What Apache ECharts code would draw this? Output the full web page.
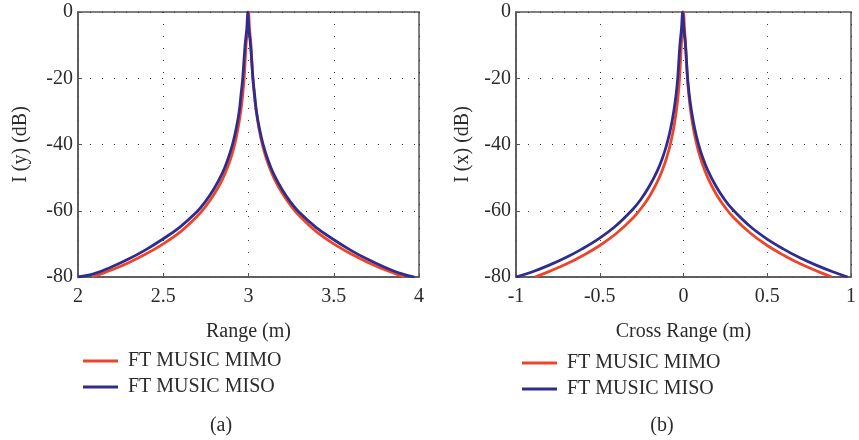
<!DOCTYPE html>
<html>
<head>
<meta charset="utf-8">
<script src="https://cdn.jsdelivr.net/npm/echarts@6/dist/echarts.min.js"></script>
<style>
  html, body { margin: 0; padding: 0; background: #fff; }
  #chart { width: 859px; height: 440px; }
</style>
</head>
<body>
<div id="chart"></div>
<script>
// (a) range profile
const rangeMisoX = [2.0, 2.096, 2.196, 2.296, 2.396, 2.496, 2.596, 2.696, 2.746, 2.796, 2.846, 2.876, 2.906,
  2.9285, 2.9455, 2.956, 2.966, 2.98, 2.99, 2.996, 3.002, 3.012, 3.026, 3.036, 3.0465, 3.0635,
  3.086, 3.116, 3.146, 3.196, 3.246, 3.296, 3.396, 3.496, 3.596, 3.696, 3.796, 3.896, 3.973];
const rangeMisoY = [-80, -79.0, -77.0, -74.6, -71.8, -68.6, -65.0, -60.4, -57.3, -53.5, -48.7, -44.9, -40,
  -35, -30, -25, -20, -10, -5, 0, -5, -10, -20, -25, -30, -35,
  -40, -44.9, -48.7, -53.5, -57.3, -60.4, -65.0, -68.6, -71.8, -74.6, -77.0, -79.0, -80];
const rangeMimoX = [2.085, 2.2, 2.3, 2.4, 2.5, 2.6, 2.7, 2.75, 2.8, 2.85, 2.88, 2.9, 2.919,
  2.939, 2.9545, 2.966, 2.9745, 2.9856, 2.994, 3.0, 3.006, 3.0144, 3.0255, 3.034, 3.0455, 3.061,
  3.081, 3.1, 3.12, 3.15, 3.2, 3.25, 3.3, 3.4, 3.5, 3.6, 3.7, 3.8, 3.912];
const rangeMimoY = [-80, -77.8, -75.6, -73.0, -70.0, -66.4, -61.6, -58.6, -54.9, -50.2, -46.5, -43.5, -40,
  -35, -30, -25, -20, -10, -5, 0, -5, -10, -20, -25, -30, -35,
  -40, -43.5, -46.5, -50.2, -54.9, -58.6, -61.6, -66.4, -70.0, -73.0, -75.6, -77.8, -80];

// (b) cross range profile
const crossMisoX = [-1.0, -0.905, -0.805, -0.705, -0.605, -0.505, -0.405, -0.305, -0.255, -0.205, -0.155, -0.125, -0.1,
  -0.0761, -0.0582, -0.0445, -0.0346, -0.0216, -0.012, -0.005, 0.002, 0.0116, 0.0246, 0.0345, 0.0482, 0.0661,
  0.09, 0.115, 0.145, 0.195, 0.245, 0.295, 0.395, 0.495, 0.595, 0.695, 0.795, 0.895, 0.98];
const crossMisoY = [-80, -78.5, -76.5, -74.2, -71.5, -68.4, -64.6, -59.7, -56.6, -52.7, -47.8, -44.0, -40,
  -35, -30, -25, -20, -10, -5, 0, -5, -10, -20, -25, -30, -35,
  -40, -44.0, -47.8, -52.7, -56.6, -59.7, -64.6, -68.4, -71.5, -74.2, -76.5, -78.5, -80];
const crossMimoX = [-0.887, -0.8, -0.7, -0.6, -0.5, -0.4, -0.3, -0.25, -0.2, -0.15, -0.12, -0.1, -0.079,
  -0.0583, -0.043, -0.0317, -0.0234, -0.0128, -0.006, 0, 0.006, 0.0128, 0.0234, 0.0317, 0.043, 0.0583,
  0.079, 0.1, 0.12, 0.15, 0.2, 0.25, 0.3, 0.4, 0.5, 0.6, 0.7, 0.8, 0.887];
const crossMimoY = [-80, -78.3, -76.1, -73.5, -70.5, -66.8, -62.1, -59.1, -55.4, -50.6, -46.9, -43.9, -40,
  -35, -30, -25, -20, -10, -5, 0, -5, -10, -20, -25, -30, -35,
  -40, -43.9, -46.9, -50.6, -55.4, -59.1, -62.1, -66.8, -70.5, -73.5, -76.1, -78.3, -80];

const seriesNames = ['FT MUSIC MIMO', 'FT MUSIC MISO'];
const colors = ['#ee4528', '#2e2d8f'];
const font = 'Liberation Serif';
const textColor = '#2b2b2b';

function pairs(xs, ys) {
  return xs.map((x, i) => [x, ys[i]]);
}

function xAxisCfg(idx, min, max, name) {
  return {
    gridIndex: idx, type: 'value', min: min, max: max, interval: 0.5,
    name: name, nameLocation: 'middle', nameGap: 45,
    nameTextStyle: { fontFamily: font, fontSize: 20, color: textColor },
    axisLine: { show: true, onZero: false, lineStyle: { color: '#555', width: 1.5 } },
    axisTick: { show: true, inside: true, length: 4, lineStyle: { color: '#555' } },
    axisLabel: { fontFamily: font, fontSize: 20, color: textColor, margin: 10 },
    splitLine: { show: true, lineStyle: { color: '#333', width: 1, type: [1, 11] } }
  };
}

function yAxisCfg(idx, name, gap) {
  return {
    gridIndex: idx, type: 'value', min: -80, max: 0, interval: 20,
    name: name, nameLocation: 'middle', nameGap: gap,
    nameTextStyle: { fontFamily: font, fontSize: 20, color: textColor },
    axisLine: { show: true, onZero: false, lineStyle: { color: '#555', width: 1.5 } },
    axisTick: { show: true, inside: true, length: 4, lineStyle: { color: '#555' } },
    axisLabel: { fontFamily: font, fontSize: 20, color: textColor, margin: 5 },
    splitLine: { show: true, lineStyle: { color: '#333', width: 1, type: [1, 11] } }
  };
}

function lineSeries(name, idx, color, data) {
  return {
    name: name, type: 'line', xAxisIndex: idx, yAxisIndex: idx,
    data: data, showSymbol: false, smooth: 0.4,
    lineStyle: { color: color, width: 2.8 },
    itemStyle: { color: color }
  };
}

const chart = echarts.init(document.getElementById('chart'));
chart.setOption({
  animation: false,
  backgroundColor: '#fff',
  title: [
    { text: '(a)', left: 216, top: 411, textAlign: 'center',
      textStyle: { fontFamily: font, fontSize: 20, fontWeight: 'normal', color: textColor } },
    { text: '(b)', left: 657, top: 411, textAlign: 'center',
      textStyle: { fontFamily: font, fontSize: 20, fontWeight: 'normal', color: textColor } }
  ],
  legend: [
    { data: seriesNames, orient: 'vertical', left: 78, top: 346, itemGap: 6,
      icon: 'rect', itemWidth: 35, itemHeight: 3,
      textStyle: { fontFamily: font, fontSize: 20, color: textColor, padding: [0, 0, 0, 5] } },
    { data: seriesNames, orient: 'vertical', left: 517, top: 348, itemGap: 6,
      icon: 'rect', itemWidth: 35, itemHeight: 3,
      textStyle: { fontFamily: font, fontSize: 20, color: textColor, padding: [0, 0, 0, 5] } }
  ],
  grid: [
    { left: 78, top: 12, width: 341, height: 265, show: true, borderColor: '#555', borderWidth: 1.5 },
    { left: 516, top: 12, width: 341, height: 265, show: true, borderColor: '#555', borderWidth: 1.5 }
  ],
  xAxis: [
    xAxisCfg(0, 2, 4, 'Range (m)'),
    xAxisCfg(1, -1, 1, 'Cross Range (m)')
  ],
  yAxis: [
    yAxisCfg(0, 'I (y) (dB)', 47),
    yAxisCfg(1, 'I (x) (dB)', 43)
  ],
  series: [
    lineSeries(seriesNames[0], 0, colors[0], pairs(rangeMimoX, rangeMimoY)),
    lineSeries(seriesNames[1], 0, colors[1], pairs(rangeMisoX, rangeMisoY)),
    lineSeries(seriesNames[0], 1, colors[0], pairs(crossMimoX, crossMimoY)),
    lineSeries(seriesNames[1], 1, colors[1], pairs(crossMisoX, crossMisoY))
  ]
});
</script>
</body>
</html>
